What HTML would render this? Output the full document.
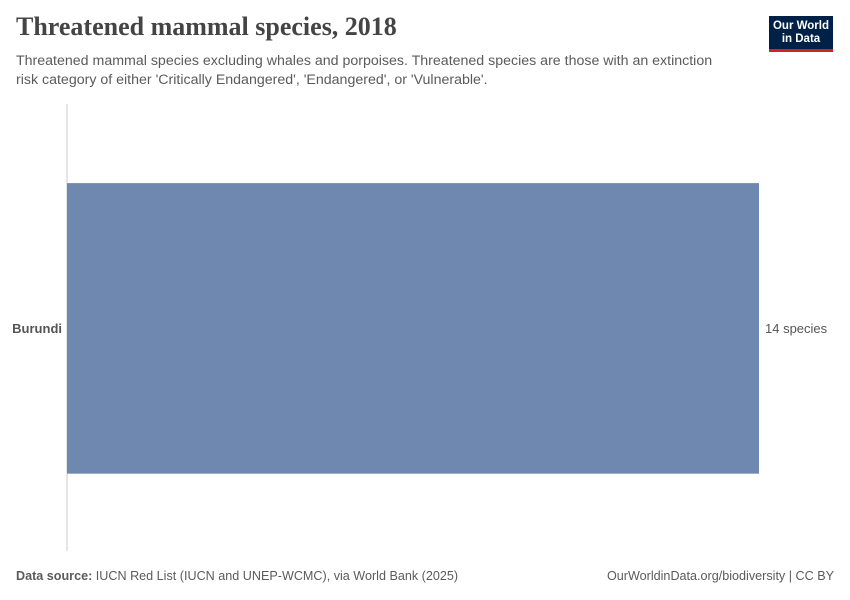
<!DOCTYPE html>
<html><head><meta charset="utf-8"><style>
body{margin:0;width:850px;height:600px;background:#fff;font-family:"Liberation Sans",sans-serif;position:relative;overflow:hidden}
.t{position:absolute;left:16px;top:12px;font-family:"Liberation Serif",serif;font-size:26px;font-weight:bold;color:#444}
.s{position:absolute;left:16px;top:52px;font-size:14.2px;line-height:19px;color:#5b5b5b;width:705px}
.logo{position:absolute;left:769px;top:16px;width:64px;height:36px;background:#002147;color:#fff;font-size:11.5px;line-height:13px;text-align:center;box-sizing:border-box;padding-top:4px;font-weight:bold}
.logo:after{content:"";position:absolute;left:0;right:0;bottom:0;height:3px;background:#ce261e}
.f{position:absolute;top:569px;font-size:12.6px;color:#5b5b5b}
</style></head><body>
<div class="t">Threatened mammal species, 2018</div>
<div class="s">Threatened mammal species excluding whales and porpoises. Threatened species are those with an extinction risk category of either 'Critically Endangered', 'Endangered', or 'Vulnerable'.</div>
<div class="logo">Our World<br>in Data</div>
<svg id="c" width="850" height="600" style="position:absolute;left:0;top:0"></svg>
<div class="f" style="left:16px"><b>Data source:</b> IUCN Red List (IUCN and UNEP-WCMC), via World Bank (2025)</div>
<div class="f" style="right:16px">OurWorldinData.org/biodiversity | CC BY</div>
<script>
const categories=["Burundi"];
const values=[14];
const unit=" species";
const svg=document.getElementById('c');
const NS="http://www.w3.org/2000/svg";
const x0=67,x1=759,maxV=Math.max(...values);
const xs=v=>x0+(x1-x0)*v/maxV;
const yTop=104,yBot=551,band=(yBot-yTop)/categories.length;
function mk(t,a){const e=document.createElementNS(NS,t);for(const k in a)e.setAttribute(k,a[k]);svg.appendChild(e);return e;}
const ax=mk('line',{x1:x0,x2:x0,y1:yTop,y2:yBot,stroke:'#ccc'});


categories.forEach((c,i)=>{
 const by=yTop+band*i+band*0.177,bh=band*0.65;
 const r=mk('rect',{x:x0,y:by,width:xs(values[i])-x0,height:bh,fill:'#6f88b0'});
 
 
 const l=mk('text',{x:x0-5,y:by+bh/2+4.5,'text-anchor':'end','font-size':13,'font-weight':'bold',fill:'#555','font-family':'Liberation Sans'});
 l.textContent=c;
 
 
 const v=mk('text',{x:xs(values[i])+6,y:by+bh/2+4.5,'font-size':13,fill:'#555','font-family':'Liberation Sans'});
 v.textContent=values[i]+unit;
 
 
});
</script>
</body></html>
